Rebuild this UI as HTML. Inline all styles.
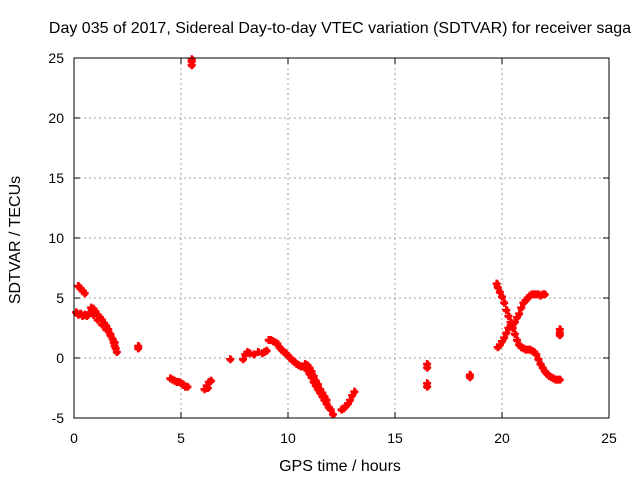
<!DOCTYPE html>
<html><head><meta charset="utf-8"><style>
body{margin:0;background:#fff;}
svg{display:block;font-family:"Liberation Sans",sans-serif;}
</style></head><body>
<svg id="chart" width="640" height="480">
<rect width="640" height="480" fill="#fff"/>
<g id="grid"></g>
<g id="ticks"></g>
<g id="marks"></g>
<rect x="74" y="58" width="535" height="360" fill="none" stroke="#000" stroke-width="1"/>
<text x="340" y="33" text-anchor="middle" font-size="16">Day 035 of 2017, Sidereal Day-to-day VTEC variation (SDTVAR) for receiver saga</text>
<text x="340" y="471" text-anchor="middle" font-size="16">GPS time / hours</text>
<text transform="translate(20,240) rotate(-90)" text-anchor="middle" font-size="16">SDTVAR / TECUs</text>
</svg>
<script>
const xTicks=[0,5,10,15,20,25];
const yTicks=[-5,0,5,10,15,20,25];
const xs=[0.2,0.3,0.4,0.5, 0.1,0.2,0.3,0.4,0.5,0.6,
0.7,0.8,0.9,1.0,1.1,1.2,1.3,1.4,1.5,1.6,1.7,1.8,1.85,1.9,1.95,2.0,0.9,1.1,1.3,1.5,1.7,1.9,
3.0,3.0,
4.5,4.6,4.7,4.8,4.9,5.0,5.1,5.2,5.3,
5.5,5.5,5.5,
6.1,6.2,6.25,6.3,6.4,
7.3,
7.9,8.0,8.1,8.2,8.4,8.6,8.8,8.9,9.0,9.1,9.2,9.3,9.4,9.5,9.6,9.7,9.8,9.9,10.0,10.1,10.2,10.3,10.4,10.5,10.6,10.7,10.8,10.9,11.0,11.1,11.2,11.3,11.4,11.5,11.6,11.7,11.8,11.9,12.0,12.1,
10.8,10.9,11.0,11.1,11.2,11.3,11.4,11.5,11.6,11.7,11.8,
12.5,12.6,12.7,12.8,12.9,13.0,13.1,
16.5,16.5,16.5,16.5,
18.5,18.5,
19.75,19.8,19.9,20.0,20.1,20.2,20.3,20.4,20.5,20.6,20.7,20.8,20.9,21.0,21.1,21.2,21.3,21.4,21.5,21.6,21.7,21.8,21.9,22.0,22.1,22.2,22.3,22.4,22.5,22.6,22.7,
19.8,19.9,20.0,20.1,20.2,20.3,20.4,20.5,20.6,20.7,20.8,20.9,21.0,21.1,21.2,21.3,21.4,21.5,21.6,21.7,21.8,21.9,22.0,
22.7,22.7,22.7];
const ys=[6.0,5.8,5.6,5.4, 3.8,3.6,3.7,3.5,3.6,3.5,
3.8,4.2,4.1,3.9,3.6,3.4,3.2,2.9,2.7,2.4,2.0,1.6,1.3,1.0,0.8,0.5,3.6,3.2,2.8,2.4,1.9,1.3,
0.8,1.0,
-1.7,-1.8,-1.9,-2.0,-2.0,-2.1,-2.2,-2.4,-2.4,
24.4,24.7,24.9,
-2.6,-2.3,-2.5,-2.0,-1.9,
-0.1,
-0.1,0.3,0.5,0.4,0.3,0.5,0.4,0.5,0.6,1.5,1.5,1.4,1.3,1.2,0.9,0.7,0.5,0.4,0.2,0.0,-0.2,-0.3,-0.5,-0.6,-0.7,-0.7,-0.8,-1.0,-1.3,-1.6,-2.0,-2.3,-2.6,-2.9,-3.2,-3.5,-3.8,-4.1,-4.3,-4.7,
-0.5,-0.6,-0.8,-1.1,-1.5,-1.9,-2.2,-2.6,-2.9,-3.2,-3.5,
-4.3,-4.2,-4.0,-3.8,-3.5,-3.1,-2.8,
-0.5,-0.8,-2.1,-2.4,
-1.4,-1.6,
6.2,5.9,5.5,5.1,4.6,4.0,3.5,3.0,2.5,2.0,1.5,1.1,0.9,0.8,0.7,0.7,0.7,0.6,0.5,0.3,-0.1,-0.5,-0.8,-1.1,-1.3,-1.5,-1.6,-1.7,-1.8,-1.8,-1.8,
0.9,1.1,1.4,1.7,2.1,2.5,2.7,2.8,3.0,3.4,3.7,4.2,4.6,4.8,5.0,5.2,5.3,5.3,5.3,5.3,5.2,5.3,5.3,
2.4,2.1,1.9];
const X=v=>74+(v-0)/25*535;
const Y=v=>418-(v+5)/30*360;
const NS="http://www.w3.org/2000/svg";
const grid=document.getElementById('grid'),ticks=document.getElementById('ticks'),marks=document.getElementById('marks');
function mk(t,a,p){const e=document.createElementNS(NS,t);for(const k in a)e.setAttribute(k,a[k]);p.appendChild(e);return e;}
xTicks.forEach(t=>{
 const x=X(t);
 if(t>0&&t<25){const g=mk('line',{x1:x,x2:x,y1:58,y2:418,stroke:'#a0a0a0','stroke-dasharray':'2,3'},grid);
 
 }
 mk('line',{x1:x,x2:x,y1:418,y2:412,stroke:'#000'},ticks);
 mk('line',{x1:x,x2:x,y1:58,y2:64,stroke:'#000'},ticks);
 const l=mk('text',{x:x,y:443,'text-anchor':'middle','font-size':14},ticks);l.textContent=t;
 
 
});
yTicks.forEach(t=>{
 const y=Y(t);
 if(t>-5&&t<25){const g=mk('line',{x1:74,x2:609,y1:y,y2:y,stroke:'#a0a0a0','stroke-dasharray':'2,3'},grid);
 
 }
 mk('line',{x1:74,x2:80,y1:y,y2:y,stroke:'#000'},ticks);
 mk('line',{x1:603,x2:609,y1:y,y2:y,stroke:'#000'},ticks);
 const l=mk('text',{x:64,y:y+5,'text-anchor':'end','font-size':14},ticks);l.textContent=t;
 
 
});
for(let i=0;i<xs.length;i++){
 const x=X(xs[i]),y=Y(ys[i]);
 const p=mk('path',{d:`M${x-4} ${y}h8M${x} ${y-4}v8M${x-3} ${y+1}h6M${x+1} ${y-3}v6`,stroke:'#f00','stroke-width':2.5,fill:'none'},marks);
 
 
}
</script>
</body></html>
